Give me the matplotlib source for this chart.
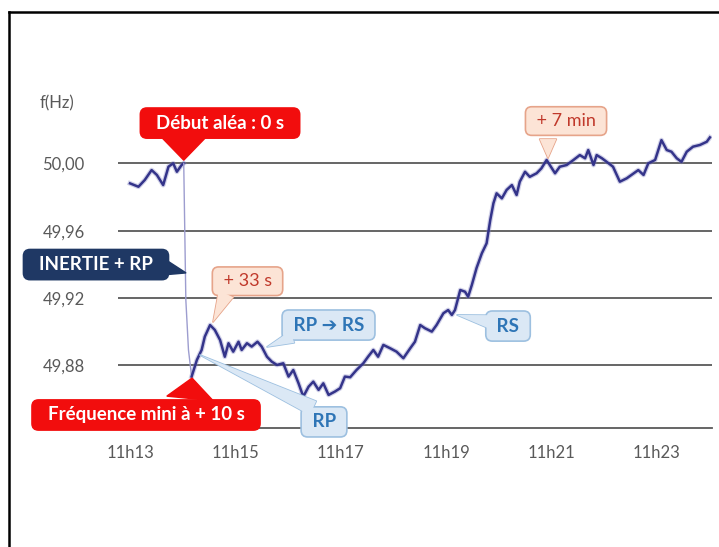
import matplotlib
matplotlib.use('Agg')
import matplotlib.pyplot as plt
from matplotlib.lines import Line2D

# temps en minutes après 11h00, fréquence en Hz
temps = [13.00, 13.16, 13.28, 13.41, 13.51, 13.63, 13.73, 13.82, 13.89, 13.98,
         14.02, 14.06, 14.11, 14.17, 14.27, 14.36, 14.42, 14.52, 14.61, 14.71,
         14.80, 14.87, 14.96, 15.06, 15.12, 15.22, 15.31, 15.42, 15.50, 15.60,
         15.69, 15.79, 15.91, 16.01, 16.10, 16.20, 16.29, 16.39, 16.48, 16.58,
         16.67, 16.77, 16.89, 16.99, 17.08, 17.18, 17.30, 17.43, 17.52, 17.62,
         17.71, 17.81, 17.94, 18.06, 18.19, 18.32, 18.41, 18.51, 18.60, 18.73,
         18.82, 18.95, 19.04, 19.11, 19.17, 19.27, 19.36, 19.42, 19.49, 19.58,
         19.68, 19.77, 19.84, 19.90, 19.96, 20.06, 20.15, 20.25, 20.34, 20.40,
         20.50, 20.59, 20.72, 20.81, 20.91, 20.97, 21.07, 21.16, 21.29, 21.42,
         21.54, 21.64, 21.70, 21.80, 21.86, 21.96, 22.05, 22.17, 22.30, 22.43,
         22.52, 22.65, 22.75, 22.84, 22.97, 23.09, 23.19, 23.28, 23.38, 23.47,
         23.57, 23.69, 23.82, 23.95, 24.01]
freq = [49.9881, 49.9861, 49.9901, 49.9960, 49.9931, 49.9871, 49.9980, 50.0000, 49.9950, 49.9990,
        50.0000, 49.9189, 49.8892, 49.8734, 49.8833, 49.8892, 49.8971, 49.9040, 49.9011, 49.8951,
        49.8852, 49.8932, 49.8882, 49.8941, 49.8892, 49.8932, 49.8912, 49.8941, 49.8912, 49.8852,
        49.8823, 49.8803, 49.8813, 49.8734, 49.8773, 49.8694, 49.8615, 49.8674, 49.8704, 49.8655,
        49.8694, 49.8625, 49.8645, 49.8665, 49.8734, 49.8730, 49.8773, 49.8813, 49.8852, 49.8892,
        49.8852, 49.8922, 49.8902, 49.8882, 49.8843, 49.8902, 49.8941, 49.9040, 49.9021, 49.9001,
        49.9040, 49.9110, 49.9129, 49.9100, 49.9129, 49.9248, 49.9238, 49.9208, 49.9278, 49.9379,
        49.9466, 49.9525, 49.9664, 49.9763, 49.9822, 49.9792, 49.9842, 49.9871, 49.9812, 49.9891,
        49.9950, 49.9920, 49.9941, 49.9970, 50.0020, 49.9990, 49.9941, 49.9980, 49.9990, 50.0020,
        50.0049, 50.0030, 50.0079, 49.9990, 50.0049, 50.0030, 50.0009, 49.9980, 49.9891, 49.9911,
        49.9931, 49.9960, 49.9931, 50.0000, 50.0020, 50.0138, 50.0079, 50.0069, 50.0030, 50.0009,
        50.0069, 50.0099, 50.0109, 50.0128, 50.0154]

y_ticks = [49.88, 49.92, 49.96, 50.00]
y_labels = ['49,88', '49,92', '49,96', '50,00']
x_ticks = [13, 15, 17, 19, 21, 23]
x_labels = ['11h13', '11h15', '11h17', '11h19', '11h21', '11h23']

fam = ['Lato', 'DejaVu Sans']
gris = '#595959'

fig = plt.figure(figsize=(7.19, 5.47), dpi=100)
ax = fig.add_axes([118 / 719, 1 - 428.3 / 547, 593.7 / 719, 315.5 / 547])
ax.set_xlim(12.772, 24.044)
ax.set_ylim(49.8427, 50.03)

ax.set_yticks(y_ticks)
ax.set_yticklabels(y_labels, family=fam, fontsize=12, color=gris)
ax.set_xticks(x_ticks)
ax.set_xticklabels(x_labels, family=fam, fontsize=12, color=gris)
ax.tick_params(length=0)
ax.tick_params(axis='y', pad=24)
ax.tick_params(axis='x', pad=12)
ax.yaxis.grid(True, color=gris, lw=1.3)
ax.set_axisbelow(True)
for s in ['top', 'right', 'left']:
    ax.spines[s].set_visible(False)
ax.spines['bottom'].set_color(gris)
ax.spines['bottom'].set_linewidth(1.3)

# courbe : partie avant l'aléa, chute, puis reprise
ax.plot(temps[:11], freq[:11], color='#8080c0', lw=3.5, alpha=0.35, zorder=2)
ax.plot(temps[:11], freq[:11], color='#34348a', lw=1.8, zorder=3)
ax.plot(temps[10:14], freq[10:14], color='#9d9dcf', lw=1.0, zorder=3)
ax.plot(temps[13:], freq[13:], color='#8080c0', lw=3.5, alpha=0.35, zorder=2)
ax.plot(temps[13:], freq[13:], color='#34348a', lw=1.8, zorder=3)

fig.text(40 / 719, 1 - 103 / 547, 'f(Hz)', family=fam, fontsize=12, color=gris, va='center')


def bulle(texte, pointe, base, centre, fc, ec, tc, queue, gras=True, taille=13.5):
    # pointe dessous, boite par-dessus, puis pointe sans contour pour cacher le trait de jonction
    fleche = dict(arrowstyle='wedge,tail_width=%s' % queue, fc=fc, ec=ec, lw=1.2,
                  shrinkA=0, shrinkB=0, mutation_scale=10)
    ax.annotate('', xy=pointe, xytext=base, arrowprops=fleche, annotation_clip=False, zorder=5)
    ax.text(centre[0], centre[1], texte, ha='center', va='center', color=tc, fontsize=taille,
            fontweight='bold' if gras else 'normal', family=fam, clip_on=False, zorder=6,
            bbox=dict(boxstyle='round,pad=0.35', fc=fc, ec=ec, lw=1.2))
    fleche2 = dict(fleche, ec='none')
    ax.annotate('', xy=pointe, xytext=base, arrowprops=fleche2, annotation_clip=False, zorder=7)


rouge = '#f20d0d'
marine = '#1f3864'
bulle('  Début aléa : 0 s  ', (14.02, 50.002), (14.02, 50.0156), (14.709, 50.0239),
      rouge, rouge, 'white', 3.2)
bulle('  INERTIE + RP  ', (14.056, 49.935), (13.684, 49.9379), (12.354, 49.9399),
      marine, marine, 'white', 1.0)
bulle('  Fréquence mini à + 10 s  ', (14.177, 49.8724), (14.139, 49.8605), (13.304, 49.8506),
      rouge, rouge, 'white', 3.3)

rose, rose_bord, rose_txt = '#fce4d6', '#e6a48a', '#c0392b'
bulle(' + 33 s ', (14.576, 49.9058), (14.823, 49.9225), (15.231, 49.930),
      rose, rose_bord, rose_txt, 1.15, gras=False, taille=13)
bulle(' + 7 min ', (20.936, 50.0031), (20.936, 50.0144), (21.278, 50.0251),
      rose, rose_bord, rose_txt, 1.2, gras=False, taille=13)

bleu, bleu_bord, bleu_txt = '#dbe8f5', '#9dc0e0', '#2e75b6'
bulle(' RP \u2794 RS ', (15.601, 49.8910), (16.076, 49.8969), (16.769, 49.904),
      bleu, bleu_bord, bleu_txt, 0.9)
bulle(' RS ', (19.208, 49.9100), (19.854, 49.9058), (20.177, 49.9034),
      bleu, bleu_bord, bleu_txt, 1.0)
bulle(' RP ', (14.329, 49.8862), (16.474, 49.8547), (16.683, 49.8465),
      bleu, bleu_bord, bleu_txt, 1.1)

# cadre noir (gauche et haut)
fig.add_artist(Line2D([8.5 / 719, 8.5 / 719], [0, 1 - 11.5 / 547], color='black', lw=1.8))
fig.add_artist(Line2D([8.5 / 719, 1], [1 - 11.5 / 547, 1 - 11.5 / 547], color='black', lw=1.8))

fig.savefig('out.png', dpi=100)
